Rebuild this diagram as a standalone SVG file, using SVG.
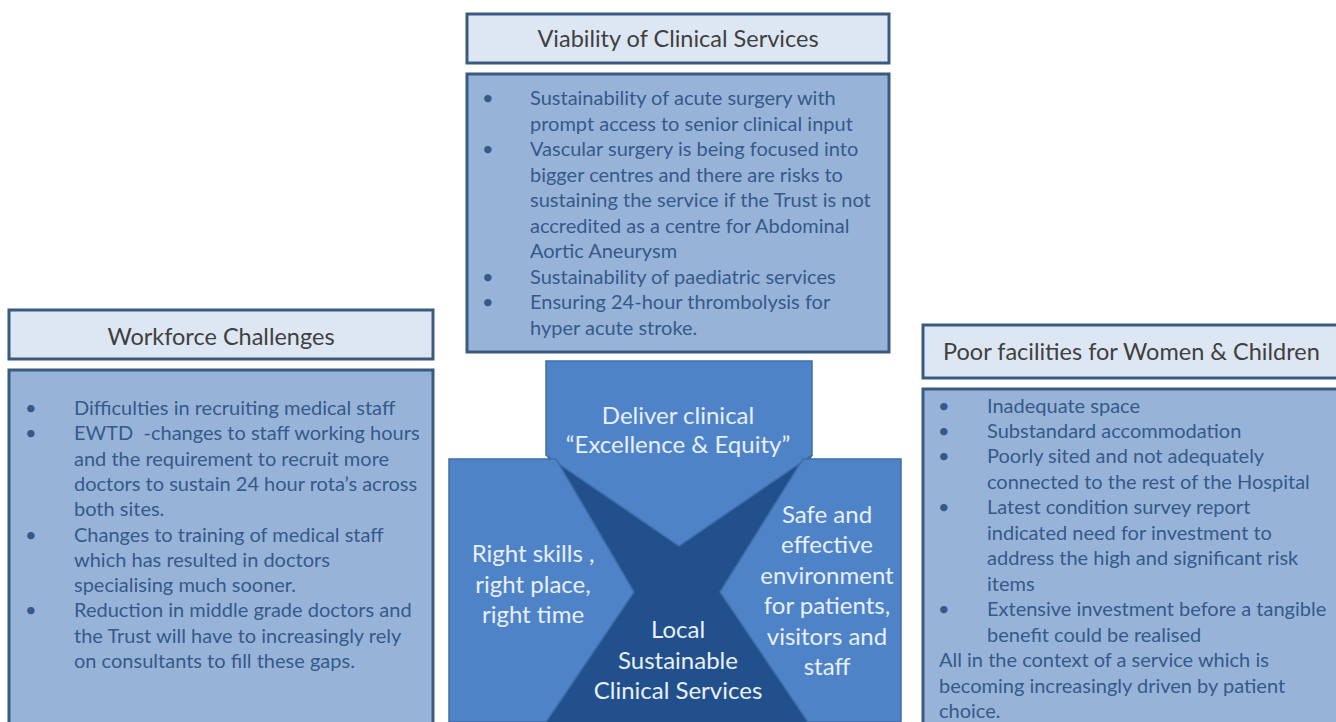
<svg xmlns="http://www.w3.org/2000/svg" width="1336" height="722" viewBox="0 0 1336 722">
<style>
.hdr{fill:#dde7f3;stroke:#3b5a80;stroke-width:3}
.body{fill:#97b4d8;stroke:#3b5a80;stroke-width:3}
.ht{font-family:Lato,"Liberation Sans",sans-serif;font-size:23.5px;fill:#404040}
.bt{font-family:Lato,"Liberation Sans",sans-serif;font-size:20px;fill:#36598a}
.ct{font-family:Lato,"Liberation Sans",sans-serif;font-size:24px;fill:#e8eff9;text-anchor:middle}
.light{fill:#4f83c8;stroke:#3f6ea8;stroke-width:1.5}
.dark{fill:#22508c}
</style>
<rect width="1336" height="722" fill="#ffffff"/>

<g id="viability">
<rect class="hdr" x="467" y="14" width="422" height="49"/>
<text class="ht" x="678" y="47" text-anchor="middle">Viability of Clinical Services</text>
<rect class="body" x="467" y="74" width="422" height="278"/>
<g class="bt">
<text x="482" y="105">•</text><text x="530" y="105">Sustainability of acute surgery with</text>
<text x="530" y="130.6">prompt access to senior clinical input</text>
<text x="482" y="156">•</text><text x="530" y="156">Vascular surgery is being focused into</text>
<text x="530" y="181.6">bigger centres and there are risks to</text>
<text x="530" y="207">sustaining the service if the Trust is not</text>
<text x="530" y="232.6">accredited as a centre for Abdominal</text>
<text x="530" y="258">Aortic Aneurysm</text>
<text x="482" y="283.6">•</text><text x="530" y="283.6">Sustainability of paediatric services</text>
<text x="482" y="309">•</text><text x="530" y="309">Ensuring 24-hour thrombolysis for</text>
<text x="530" y="334.6">hyper acute stroke.</text>
</g>
</g>

<g id="workforce">
<rect class="hdr" x="9" y="310" width="424" height="49"/>
<text class="ht" x="221" y="345" text-anchor="middle">Workforce Challenges</text>
<rect class="body" x="9" y="370" width="424" height="365"/>
<g class="bt">
<text x="25" y="415">•</text><text x="74" y="415">Difficulties in recruiting medical staff</text>
<text x="25" y="440.3">•</text><text x="74" y="440.3" xml:space="preserve">EWTD  -changes to staff working hours</text>
<text x="74" y="465.6">and the requirement to recruit more</text>
<text x="74" y="490.9">doctors to sustain 24 hour rota’s across</text>
<text x="74" y="516.2">both sites.</text>
<text x="25" y="541.5">•</text><text x="74" y="541.5">Changes to training of medical staff</text>
<text x="74" y="566.8">which has resulted in doctors</text>
<text x="74" y="592.1">specialising much sooner.</text>
<text x="25" y="617.4">•</text><text x="74" y="617.4">Reduction in middle grade doctors and</text>
<text x="74" y="642.7">the Trust will have to increasingly rely</text>
<text x="74" y="668">on consultants to fill these gaps.</text>
</g>
</g>

<g id="women-children">
<rect class="hdr" x="923" y="325" width="425" height="53"/>
<text class="ht" x="943" y="360">Poor facilities for Women &amp; Children</text>
<rect class="body" x="923" y="389" width="425" height="346"/>
<g class="bt">
<text x="938" y="412.5">•</text><text x="987" y="412.5">Inadequate space</text>
<text x="938" y="437.5">•</text><text x="987" y="437.5">Substandard accommodation</text>
<text x="938" y="463">•</text><text x="987" y="463">Poorly sited and not adequately</text>
<text x="987" y="488.5">connected to the rest of the Hospital</text>
<text x="938" y="514">•</text><text x="987" y="514">Latest condition survey report</text>
<text x="987" y="539.5">indicated need for investment to</text>
<text x="987" y="565">address the high and significant risk</text>
<text x="987" y="590.5">items</text>
<text x="938" y="616">•</text><text x="987" y="616">Extensive investment before a tangible</text>
<text x="987" y="641.5">benefit could be realised</text>
<text x="939" y="667">All in the context of a service which is</text>
<text x="939" y="692.5">becoming increasingly driven by patient</text>
<text x="939" y="718">choice.</text>
</g>
</g>

<g id="centre">
<polygon class="dark" points="546,455 813,455 720,592 808,722 546,722 634,592"/>
<g id="deliver">
<polygon class="light" points="546,361 812,361 812,455 679,546 546,455"/>
<text class="ct" x="678" y="424">Deliver clinical</text>
<text class="ct" x="678" y="453">“Excellence &amp; Equity”</text>
</g>
<g id="right-skills">
<polygon class="light" points="449,459 556,459 634,592 546,722 449,722"/>
<text class="ct" x="533" y="562">Right skills ,</text>
<text class="ct" x="533" y="593">right place,</text>
<text class="ct" x="533" y="623">right time</text>
</g>
<g id="safe">
<polygon class="light" points="803,459 901,459 901,722 808,722 720,592"/>
<text class="ct" x="827" y="523">Safe and</text>
<text class="ct" x="827" y="553">effective</text>
<text class="ct" x="827" y="584">environment</text>
<text class="ct" x="827" y="614">for patients,</text>
<text class="ct" x="827" y="645">visitors and</text>
<text class="ct" x="827" y="675">staff</text>
</g>
<g id="local">
<text class="ct" x="678" y="638">Local</text>
<text class="ct" x="678" y="669">Sustainable</text>
<text class="ct" x="678" y="699">Clinical Services</text>
</g>
</g>
<g id="connectors"/>
</svg>
